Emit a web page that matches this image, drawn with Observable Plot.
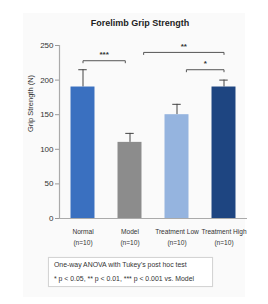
<!DOCTYPE html>
<html>
<head>
<meta charset="utf-8">
<script src="https://cdn.jsdelivr.net/npm/d3@7"></script>
<script src="https://cdn.jsdelivr.net/npm/@observablehq/plot@0.6"></script>
<style>
  html, body { margin: 0; padding: 0; background: #fff; }
  body { width: 268px; height: 304px; position: relative; font-family: "Liberation Sans", Arial, sans-serif; }
  #panel { position: absolute; left: 23px; top: 13px; width: 222px; height: 284px; background: #fafafa; }
  #title { position: absolute; left: 0; width: 280px; top: 18px; text-align: center; font-size: 9px; font-weight: bold; color: #222; }
  #chart { position: absolute; left: 0; top: 30px; }
  #note { position: absolute; left: 48px; top: 257px; width: 158px; height: 28px; border: 1px solid #d4d4d4; background: #fff;
          padding: 0 0 0 5px; font-size: 6.9px; color: #333; line-height: 14px; box-shadow: 0 0 1px rgba(0,0,0,0.08); }
</style>
</head>
<body>
<div id="panel"></div>
<div id="title">Forelimb Grip Strength</div>
<div id="chart"></div>
<div id="note">One-way ANOVA with Tukey’s post hoc test<br>* p &lt; 0.05, ** p &lt; 0.01, *** p &lt; 0.001 vs. Model</div>
<script>
// Group means and SEM (N)
const groups = ["Normal", "Model", "Treatment Low", "Treatment High"];
const counts = [10, 10, 10, 10];
const means = [190, 110, 150, 190];
const errors = [25, 13, 15, 10];
const colors = ["#3a70c0", "#8c8c8c", "#95b4df", "#1e4581"];
const yTicks = [0, 50, 100, 150, 200, 250];

// Significance brackets (ends given in group-index units)
const bracketStart = [0, 1.29, 2.2];
const bracketEnd = [0.9, 3, 3];
const bracketLevel = [228, 240, 215];
const bracketLabel = ["***", "**", "*"];

const rows = groups.map((g, i) => ({i, g, n: counts[i], mean: means[i], err: errors[i], color: colors[i]}));
const brackets = bracketLabel.map((s, k) => ({x1: bracketStart[k], x2: bracketEnd[k], y: bracketLevel[k], s}));

const half = 0.255, cap = 0.09, drop = 3;
const bracketPaths = brackets.flatMap((b, k) => [
  {k, x: b.x1, y: b.y - drop}, {k, x: b.x1, y: b.y}, {k, x: b.x2, y: b.y}, {k, x: b.x2, y: b.y - drop}
]);

const plot = Plot.plot({
  width: 268,
  height: 220,
  marginLeft: 59,
  marginRight: 21,
  marginTop: 15,
  marginBottom: 32,
  style: {fontFamily: "'Liberation Sans', Arial, sans-serif", background: "transparent", color: "#333"},
  x: {domain: [-0.5, 3.5], axis: null},
  y: {domain: [0, 250], ticks: yTicks, label: null},
  marks: [
    Plot.ruleY([0], {stroke: "#aaa", strokeWidth: 1}),
    Plot.axisY({ticks: yTicks, tickSize: 4, tickPadding: 2, fontSize: 8, stroke: "#999", label: null}),
    Plot.ruleX([0], {y1: 0, y2: 250, stroke: "#aaa", strokeWidth: 1.2, x: () => -0.5}),
    Plot.text(["Grip Strength (N)"], {frameAnchor: "left", rotate: -90, dx: -29, fontSize: 7.5, fill: "#333"}),
    // error bars (upper half only)
    Plot.ruleX(rows, {x: "i", y1: "mean", y2: d => d.mean + d.err, stroke: "#444", strokeWidth: 1}),
    Plot.ruleY(rows, {y: d => d.mean + d.err, x1: d => d.i - cap, x2: d => d.i + cap, stroke: "#444", strokeWidth: 1}),
    Plot.rectY(rows, {x1: d => d.i - half, x2: d => d.i + half, y1: 0, y2: "mean", fill: "color"}),
    // group labels
    Plot.text(rows, {x: "i", text: d => `${d.g}\n(n=${d.n})`, frameAnchor: "bottom", dy: 26, lineHeight: 1.6, fontSize: 6.6, fill: "#333"}),
    // significance brackets
    Plot.line(bracketPaths, {x: "x", y: "y", z: "k", stroke: "#555", strokeWidth: 1}),
    Plot.text(brackets, {x: d => (d.x1 + d.x2) / 2, y: "y", text: "s", dy: -6, fontSize: 8, fontWeight: "bold", fill: "#333"})
  ]
});
document.getElementById("chart").appendChild(plot);
</script>
</body>
</html>
